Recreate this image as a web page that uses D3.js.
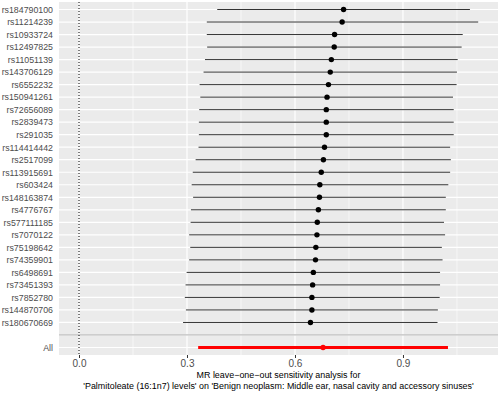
<!DOCTYPE html>
<html>
<head>
<script src="https://cdnjs.cloudflare.com/ajax/libs/d3/7.8.5/d3.min.js"></script>
<style>
  body { margin: 0; background: #fff; }
  text { font-family: "Liberation Sans", Arial, sans-serif; }
</style>
</head>
<body>
<script>
  // leave-one-out estimates
  const snps = ["rs184790100", "rs11214239", "rs10933724", "rs12497825", "rs11051139",
    "rs143706129", "rs6552232", "rs150941261", "rs72656089", "rs2839473", "rs291035",
    "rs114414442", "rs2517099", "rs113915691", "rs603424", "rs148163874", "rs4776767",
    "rs577111185", "rs7070122", "rs75198642", "rs74359901", "rs6498691", "rs73451393",
    "rs7852780", "rs144870706", "rs180670669", "", "All"];
  const b = [0.735, 0.731, 0.710, 0.709, 0.701, 0.698, 0.693, 0.689, 0.687, 0.687, 0.687,
    0.682, 0.679, 0.673, 0.669, 0.668, 0.665, 0.662, 0.661, 0.658, 0.657, 0.651, 0.649,
    0.647, 0.647, 0.643, null, 0.678];
  const lo = [0.384, 0.355, 0.355, 0.356, 0.350, 0.346, 0.335, 0.337, 0.334, 0.333, 0.333,
    0.332, 0.324, 0.316, 0.313, 0.317, 0.311, 0.310, 0.306, 0.309, 0.306, 0.299, 0.296,
    0.294, 0.297, 0.289, null, 0.331];
  const hi = [1.086, 1.109, 1.066, 1.063, 1.052, 1.050, 1.049, 1.039, 1.041, 1.041, 1.041,
    1.031, 1.033, 1.031, 1.026, 1.019, 1.019, 1.014, 1.017, 1.008, 1.010, 1.003, 1.003,
    1.002, 0.997, 0.996, null, 1.025];
  const xTicks = [0.0, 0.3, 0.6, 0.9];
  const xMinor = [0.15, 0.45, 0.75, 1.05];
  const title1 = "MR leave\u2212one\u2212out sensitivity analysis for";
  const title2 = "'Palmitoleate (16:1n7) levels' on 'Benign neoplasm: Middle ear, nasal cavity and accessory sinuses'";

  const w = 500, h = 393;
  const pLeft = 59, pRight = 498, pTop = 2, pBottom = 355;

  const data = snps.map((s, i) => ({ snp: s, b: b[i], lo: lo[i], hi: hi[i] }));

  const x = d3.scaleLinear().domain([-0.0556, 1.164]).range([pLeft, pRight]);
  const y = d3.scalePoint().domain(snps).range([pTop, pBottom]).padding(0.6);

  const svg = d3.select("body").append("svg").attr("width", w).attr("height", h);

  svg.append("rect").attr("x", pLeft).attr("y", pTop)
    .attr("width", pRight - pLeft).attr("height", pBottom - pTop).attr("fill", "#ebebeb");

  svg.selectAll(".minor").data(xMinor).enter().append("line")
    .attr("x1", d => x(d)).attr("x2", d => x(d)).attr("y1", pTop).attr("y2", pBottom)
    .attr("stroke", "#fff").attr("stroke-width", 0.6);
  svg.selectAll(".major").data(xTicks).enter().append("line")
    .attr("x1", d => x(d)).attr("x2", d => x(d)).attr("y1", pTop).attr("y2", pBottom)
    .attr("stroke", "#fff").attr("stroke-width", 1.2);
  svg.selectAll(".ygrid").data(snps).enter().append("line")
    .attr("x1", pLeft).attr("x2", pRight).attr("y1", d => y(d)).attr("y2", d => y(d))
    .attr("stroke", "#fff").attr("stroke-width", 1.2);

  // separator line on the blank row
  svg.append("line").attr("x1", pLeft).attr("x2", pRight)
    .attr("y1", y("")).attr("y2", y(""))
    .attr("stroke", "#bebebe").attr("stroke-width", 1.2);

  svg.append("line").attr("x1", x(0)).attr("x2", x(0)).attr("y1", pTop).attr("y2", pBottom)
    .attr("stroke", "#000").attr("stroke-width", 1).attr("stroke-dasharray", "1,2");

  const rows = data.filter(d => d.b !== null);
  svg.selectAll(".ci").data(rows).enter().append("line")
    .attr("x1", d => x(d.lo)).attr("x2", d => x(d.hi))
    .attr("y1", d => y(d.snp)).attr("y2", d => y(d.snp))
    .attr("stroke", d => d.snp === "All" ? "#ff0000" : "#333")
    .attr("stroke-width", d => d.snp === "All" ? 3 : 1);
  svg.selectAll(".pt").data(rows).enter().append("circle")
    .attr("cx", d => x(d.b)).attr("cy", d => y(d.snp)).attr("r", 2.7)
    .attr("fill", d => d.snp === "All" ? "#ff0000" : "#000");

  const xAxis = d3.axisBottom(x).tickValues(xTicks).tickFormat(d3.format(".1f"))
    .tickSize(3).tickPadding(1.5);
  const gx = svg.append("g").attr("transform", "translate(0," + pBottom + ")").call(xAxis);
  gx.select(".domain").remove();
  gx.selectAll(".tick line").attr("stroke", "#333");
  gx.selectAll("text").attr("fill", "#4d4d4d").style("font-size", "10px");

  const yAxis = d3.axisLeft(y).tickSize(0).tickPadding(6);
  const gy = svg.append("g").attr("transform", "translate(" + pLeft + ",0)").call(yAxis);
  gy.select(".domain").remove();
  gy.selectAll("text").attr("fill", "#4d4d4d").style("font-size", "8.8px");

  // axis title, sized so the long line spans about the reference width
  const cx = (pLeft + pRight) / 2;
  const t2 = svg.append("text").attr("x", cx).attr("y", 389).attr("text-anchor", "middle")
    .style("font-size", "10px").attr("fill", "#000").text(title2);
  const fs = 10 * 391 / t2.node().getComputedTextLength();
  t2.style("font-size", fs + "px");
  svg.append("text").attr("x", cx).attr("y", 378).attr("text-anchor", "middle")
    .style("font-size", fs + "px").attr("fill", "#000").text(title1);
</script>
</body>
</html>
